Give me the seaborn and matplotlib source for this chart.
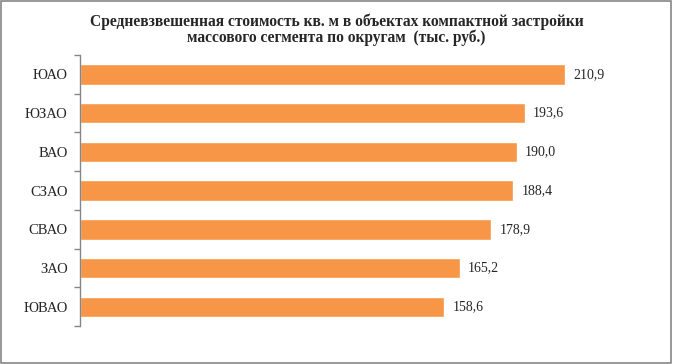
import numpy as np
import pandas as pd
import matplotlib.pyplot as plt
import seaborn as sns
from matplotlib.patches import Rectangle
from matplotlib.ticker import FixedLocator

# data
okruga = ['ЮАО', 'ЮЗАО', 'ВАО', 'СЗАО', 'СВАО', 'ЗАО', 'ЮВАО']
price = [210.9, 193.6, 190.0, 188.4, 178.9, 165.2, 158.6]
title1 = 'Средневзвешенная стоимость кв. м в объектах компактной застройки'
title2 = 'массового сегмента по округам  (тыс. руб.)'

df = pd.DataFrame({'okrug': okruga, 'price': price})

sns.set_style('white')
plt.rcParams['font.family'] = ['Liberation Serif', 'DejaVu Serif']

fig = plt.figure(figsize=(6.73, 3.64), dpi=100)
ax = fig.add_axes([0.119, 0.104, 0.85, 0.745])

sns.barplot(data=df, x='price', y='okrug', color='#F79646', width=0.53,
            saturation=1, ax=ax)

ax.set_xlim(0, 249)
ax.set_ylim(len(okruga) - 0.5, -0.5)
ax.set_xlabel('')
ax.set_ylabel('')
ax.set_xticks([])

for s in ['top', 'right', 'bottom']:
    ax.spines[s].set_visible(False)
ax.spines['left'].set_color('#868686')
ax.spines['left'].set_linewidth(1)

ax.tick_params(axis='y', which='major', length=0, pad=9, labelsize=10.5)
ax.yaxis.set_minor_locator(FixedLocator(np.arange(-0.5, len(okruga), 1)))
ax.tick_params(axis='y', which='minor', left=True, length=4, color='#868686', width=1)

labels = [f'{v:.1f}'.replace('.', ',') for v in price]
ax.bar_label(ax.containers[0], labels=labels, padding=6, fontsize=10)

# title (two lines)
fig.text(0.5, 1 - 26 / 364, title1, ha='center', va='baseline',
         fontsize=11.2, fontweight='bold')
fig.text(0.5, 1 - 42.5 / 364, title2, ha='center', va='baseline',
         fontsize=11.2, fontweight='bold')

fig.patches.append(Rectangle((0.001, 0.002), 0.996, 0.995, transform=fig.transFigure,
                             fill=False, edgecolor='#868686', linewidth=1.2))

plt.savefig('out.png', dpi=100)
